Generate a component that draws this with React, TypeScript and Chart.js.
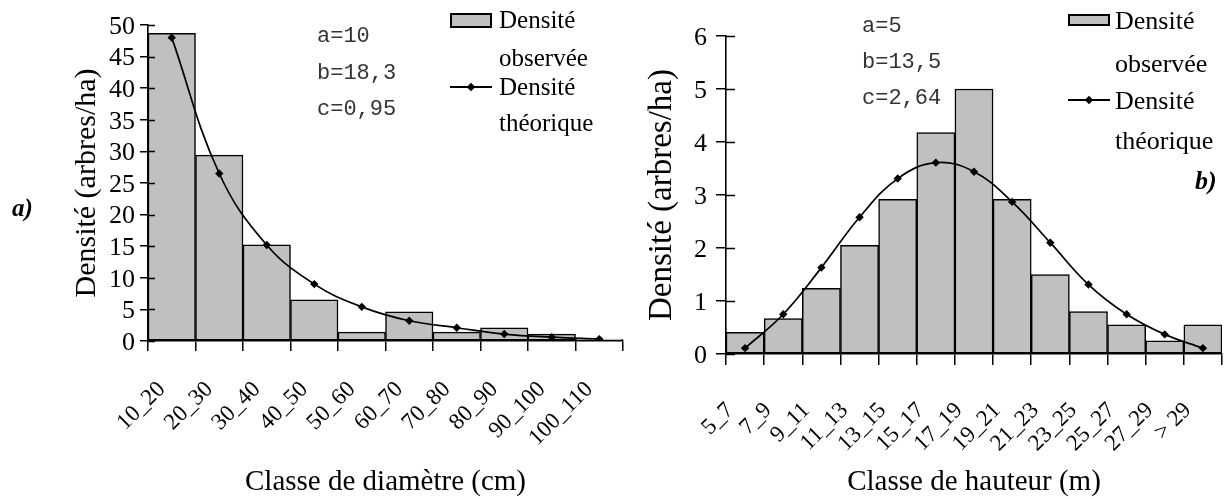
import React, { useEffect, useRef } from "react";
import { Chart, registerables } from "chart.js";

Chart.register(...registerables);

// ---------- Data ----------
const diamClasses = ["10_20", "20_30", "30_40", "40_50", "50_60", "60_70", "70_80", "80_90", "90_100", "100_110"];
const diamObserved = [48.7, 29.4, 15.2, 6.5, 1.4, 4.6, 1.4, 2.1, 1.1, 0.3];
const diamTheoretical = [48.0, 26.5, 15.2, 9.0, 5.4, 3.2, 2.1, 1.1, 0.6, 0.3];
const diamParams = ["a=10", "b=18,3", "c=0,95"];

const hautClasses = ["5_7", "7_9", "9_11", "11_13", "13_15", "15_17", "17_19", "19_21", "21_23", "23_25", "25_27", "27_29", "> 29"];
const hautObserved = [0.41, 0.67, 1.24, 2.05, 2.92, 4.18, 5.0, 2.92, 1.5, 0.8, 0.55, 0.25, 0.55];
const hautTheoretical = [0.11, 0.75, 1.63, 2.58, 3.31, 3.61, 3.44, 2.87, 2.1, 1.31, 0.75, 0.37, 0.11];
const hautParams = ["a=5", "b=13,5", "c=2,64"];

const serif = '"Liberation Serif", "Times New Roman", serif';
const mono = '"Liberation Mono", "Courier New", monospace';

type PanelCfg = {
  labels: string[];
  observed: number[];
  theoretical: number[];
  yMax: number;
  yStep: number;
  yTitle: string;
  xTitle: string;
  canvasW: number;
  areaLeft: number;
  areaRight: number;
  areaTop: number;
  areaBottom: number;
  yTitleSize: number;
  yTitlePad: number;
  yTickPad: number;
  yTickLen: number;
  innerTick: number;
  xTickLen: number;
  xTickPad: number;
  xLabelOffset: number;
};

const innerTicksPlugin = (len: number) => ({
  id: "innerTicks",
  afterDraw(chart: any) {
    const ctx = chart.ctx;
    const y = chart.scales.y;
    const left = chart.chartArea.left;
    ctx.save();
    ctx.strokeStyle = "#000";
    ctx.lineWidth = 1.5;
    y.ticks.forEach((_t: any, i: number) => {
      const py = Math.round(y.getPixelForTick(i)) + 0.5;
      ctx.beginPath();
      ctx.moveTo(left, py);
      ctx.lineTo(left + len, py);
      ctx.stroke();
    });
    ctx.restore();
  },
});

function Panel({ cfg, left }: { cfg: PanelCfg; left: number }) {
  const ref = useRef<HTMLCanvasElement | null>(null);
  useEffect(() => {
    if (!ref.current) return;
    const H = 499;
    const chart = new Chart(ref.current, {
      type: "bar",
      data: {
        labels: cfg.labels,
        datasets: [
          {
            type: "line",
            label: "Densité théorique",
            data: cfg.theoretical,
            order: 0,
            borderColor: "#000",
            borderWidth: 1.7,
            pointStyle: "rectRot",
            pointRadius: 3,
            pointBackgroundColor: "#000",
            pointBorderColor: "#000",
            tension: 0.4,
            fill: false,
          } as any,
          {
            type: "bar",
            label: "Densité observée",
            data: cfg.observed,
            order: 1,
            backgroundColor: "#c0c0c0",
            borderColor: "#000",
            borderWidth: 1.5,
            borderSkipped: false,
            barPercentage: 1,
            categoryPercentage: 1,
          } as any,
        ],
      },
      options: {
        animation: false,
        responsive: false,
        events: [],
        layout: {
          padding: {
            left: 0,
            top: cfg.areaTop,
            right: cfg.canvasW - cfg.areaRight,
            bottom: 0,
          },
        },
        plugins: {
          legend: { display: false },
          tooltip: { enabled: false },
        },
        scales: {
          x: {
            offset: true,
            grid: {
              offset: true,
              drawOnChartArea: false,
              drawTicks: true,
              tickLength: cfg.xTickLen,
              color: "#000",
              lineWidth: 1.5,
            },
            border: { display: true, color: "#000", width: 1.6 },
            ticks: {
              autoSkip: false,
              maxRotation: 45,
              minRotation: 45,
              padding: cfg.xTickPad,
              labelOffset: cfg.xLabelOffset,
              color: "#000",
              font: { family: serif, size: 23 },
            },
            title: {
              display: true,
              text: cfg.xTitle,
              color: "#000",
              font: { family: serif, size: 29, lineHeight: 1 },
              padding: { top: 0, bottom: 2 },
            },
            afterFit: (s: any) => {
              s.height = H - cfg.areaBottom;
              s.paddingLeft = 0;
              s.paddingRight = 0;
            },
          },
          y: {
            min: 0,
            max: cfg.yMax,
            grid: {
              drawOnChartArea: false,
              drawTicks: true,
              tickLength: cfg.yTickLen,
              color: "#000",
              lineWidth: 1.5,
            },
            border: { display: true, color: "#000", width: 1.6 },
            ticks: {
              stepSize: cfg.yStep,
              autoSkip: false,
              padding: cfg.yTickPad,
              labelOffset: 2,
              color: "#000",
              font: { family: serif, size: 26, lineHeight: 1 },
            },
            title: {
              display: true,
              text: cfg.yTitle,
              color: "#000",
              font: { family: serif, size: cfg.yTitleSize, lineHeight: 1 },
              padding: { top: cfg.yTitlePad, bottom: 0 },
            },
            afterFit: (s: any) => {
              s.width = cfg.areaLeft;
              s.paddingTop = 0;
              s.paddingBottom = 0;
            },
          },
        },
      },
      plugins: [innerTicksPlugin(cfg.innerTick)],
    });
    return () => chart.destroy();
  }, [cfg]);
  return (
    <canvas
      ref={ref}
      width={cfg.canvasW}
      height={499}
      style={{ position: "absolute", left, top: 0, width: cfg.canvasW, height: 499 }}
    />
  );
}

const cfgA: PanelCfg = {
  labels: diamClasses,
  observed: diamObserved,
  theoretical: diamTheoretical,
  yMax: 50,
  yStep: 5,
  yTitle: "Densité (arbres/ha)",
  xTitle: "Classe de diamètre (cm)",
  canvasW: 640,
  areaLeft: 148,
  areaRight: 623,
  areaTop: 25,
  areaBottom: 341,
  yTitleSize: 30,
  yTitlePad: 72,
  yTickPad: 5,
  yTickLen: 8,
  innerTick: 7,
  xTickLen: 10,
  xTickPad: 25,
  xLabelOffset: -10,
};

const cfgB: PanelCfg = {
  labels: hautClasses,
  observed: hautObserved,
  theoretical: hautTheoretical,
  yMax: 6,
  yStep: 1,
  yTitle: "Densité (arbres/ha)",
  xTitle: "Classe de hauteur (m)",
  canvasW: 592,
  areaLeft: 86,
  areaRight: 582,
  areaTop: 36,
  areaBottom: 354,
  yTitleSize: 33,
  yTitlePad: 6,
  yTickPad: 9,
  yTickLen: 10,
  innerTick: 9,
  xTickLen: 11,
  xTickPad: 32,
  xLabelOffset: -15,
};

function Txt({ x, cy, size, text, font, color, style }: { x: number; cy: number; size: number; text: string; font?: string; color?: string; style?: React.CSSProperties }) {
  const lh = Math.round(size * 1.2);
  return (
    <div
      style={{
        position: "absolute",
        left: x,
        top: cy - lh / 2,
        fontFamily: font || serif,
        fontSize: size,
        lineHeight: lh + "px",
        color: color || "#000",
        whiteSpace: "pre",
        ...style,
      }}
    >
      {text}
    </div>
  );
}

function LegendBox({ x, y, w, h }: { x: number; y: number; w: number; h: number }) {
  return (
    <div
      style={{
        position: "absolute",
        left: x,
        top: y,
        width: w,
        height: h,
        background: "#c0c0c0",
        border: "2px solid #000",
        boxSizing: "border-box",
      }}
    />
  );
}

function LegendLine({ x, cy, w }: { x: number; cy: number; w: number }) {
  return (
    <>
      <div style={{ position: "absolute", left: x, top: cy - 1, width: w, height: 2, background: "#000" }} />
      <div
        style={{
          position: "absolute",
          left: x + w / 2 - 3,
          top: cy - 3,
          width: 6,
          height: 6,
          background: "#000",
          transform: "rotate(45deg)",
        }}
      />
    </>
  );
}

export default function App() {
  return (
    <div style={{ position: "absolute", left: 0, top: 0, width: 1232, height: 499, background: "#fff", overflow: "hidden" }}>
      <Panel cfg={cfgA} left={0} />
      <Panel cfg={cfgB} left={640} />

      {/* Panel a annotations */}
      {diamParams.map((t, i) => (
        <Txt key={"pa" + i} x={317} cy={37 + i * 36.5} size={22} text={t} font={mono} color="#333" />
      ))}
      <LegendBox x={450} y={13} w={42} h={15} />
      <Txt x={499} cy={20} size={25} text="Densité" />
      <Txt x={499} cy={58} size={25} text="observée" />
      <LegendLine x={450} cy={87} w={42} />
      <Txt x={499} cy={87} size={25} text="Densité" />
      <Txt x={499} cy={123} size={25} text="théorique" />
      <Txt x={12} cy={208} size={25} text="a)" style={{ fontWeight: "bold", fontStyle: "italic" }} />

      {/* Panel b annotations */}
      {hautParams.map((t, i) => (
        <Txt key={"pb" + i} x={862} cy={27 + i * 36} size={22} text={t} font={mono} color="#333" />
      ))}
      <LegendBox x={1068} y={14} w={42} h={12} />
      <Txt x={1115} cy={20} size={26} text="Densité" />
      <Txt x={1115} cy={63} size={26} text="observée" />
      <LegendLine x={1068} cy={100} w={42} />
      <Txt x={1115} cy={100} size={26} text="Densité" />
      <Txt x={1115} cy={140} size={26} text="théorique" />
      <Txt x={1195} cy={180} size={26} text="b)" style={{ fontWeight: "bold", fontStyle: "italic" }} />
    </div>
  );
}
